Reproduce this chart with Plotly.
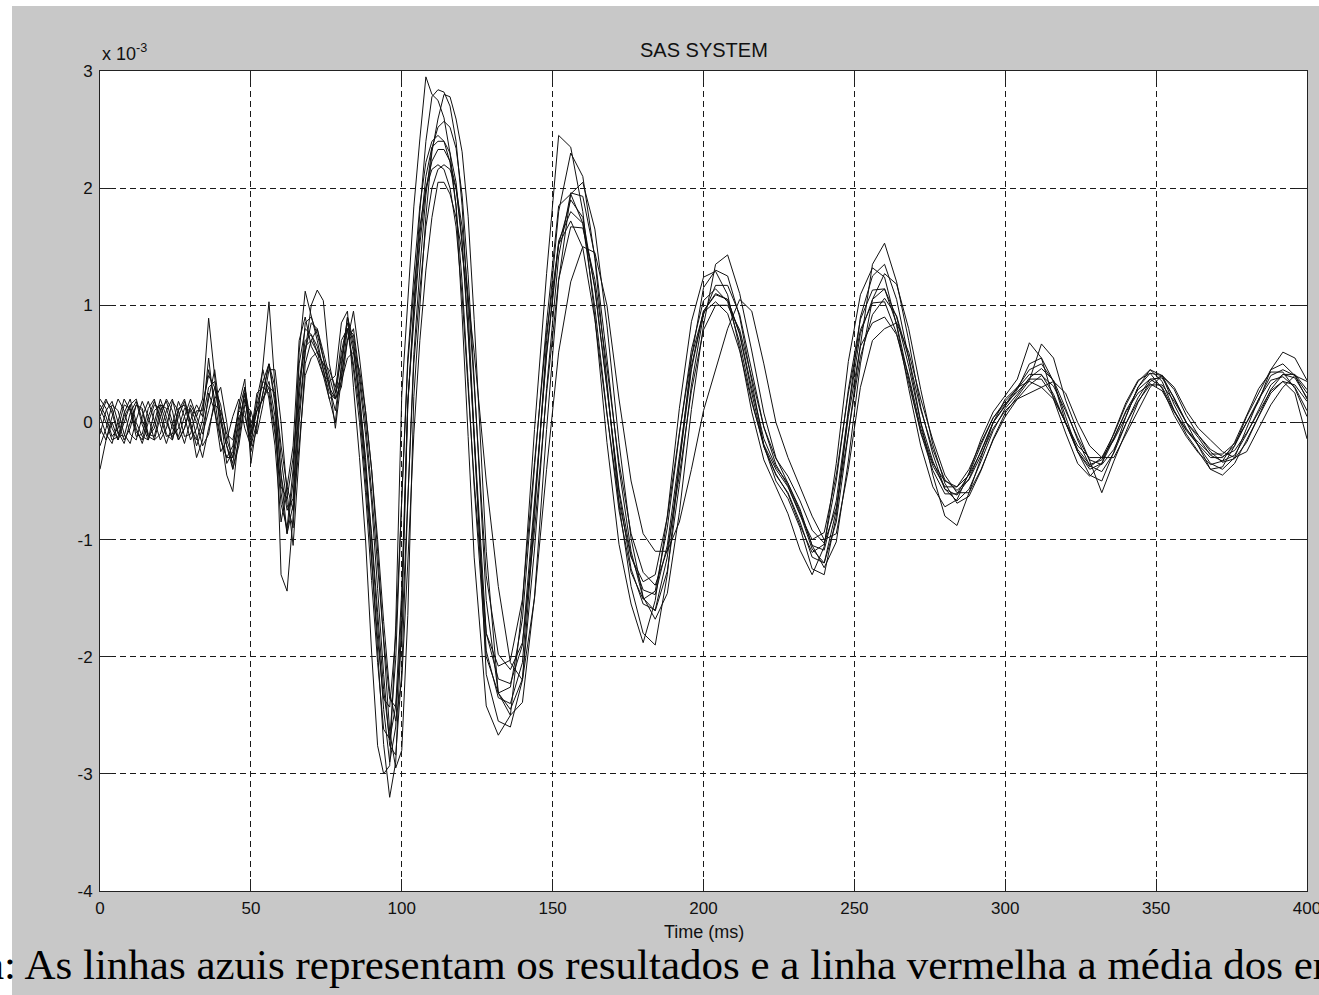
import plotly.graph_objects as go

# sample times (ms): 2 ms steps up to 124 ms, then 4 ms steps
time_ms = list(range(0, 125, 2)) + list(range(128, 401, 4))

# amplitudes in units of 1e-3, rows: 0-34 | 36-88 | 90-124 | 128-200 | 204-300 | 304-400
trace_a = [0.15, 0.05, -0.12, -0.05, 0.15, 0.12, -0.08, -0.15, 0.05, 0.18, 0.05, -0.12, -0.10, 0.12, 0.15, -0.05, -0.15, 0.02,
           0.30, 0.35, 0.05, -0.20, -0.35, -0.05, 0.25, -0.10, 0.10, 0.35, 0.50, 0.20, -0.45, -0.95, -0.70, 0.20, 0.85, 0.90, 0.75, 0.55, 0.30, 0.10, 0.45, 0.90, 0.70, 0.25, -0.35,
           -1.15, -1.95, -2.75, -3.20, -2.90, -1.70, 0.15, 1.00, 1.80, 2.40, 2.78, 2.84, 2.82, 2.70, 2.40, 1.85, 0.95, -0.10,
           -2.15, -2.55, -2.60, -2.20, -0.80, 0.70, 1.80, 2.30, 2.10, 1.40, 0.35, -0.70, -1.40, -1.80, -1.90, -1.30, -0.35, 0.55, 1.15,
           1.30, 1.25, 0.90, 0.35, -0.20, -0.50, -0.65, -0.90, -1.25, -1.30, -0.80, 0.10, 0.90, 1.25, 1.35, 1.05, 0.55, 0.00, -0.45, -0.80, -0.88, -0.60, -0.30, 0.00, 0.15,
           0.30, 0.45, 0.50, 0.35, 0.05, -0.25, -0.45, -0.50, -0.25, 0.05, 0.30, 0.42, 0.40, 0.15, -0.05, -0.20, -0.35, -0.40, -0.30, -0.05, 0.20, 0.40, 0.45, 0.40, 0.20]

trace_b = [-0.10, 0.10, 0.18, 0.00, -0.15, -0.05, 0.15, 0.12, -0.10, -0.12, 0.10, 0.18, 0.00, -0.15, -0.05, 0.15, 0.05, 0.20,
           0.89, 0.40, -0.10, -0.45, -0.59, -0.10, 0.30, -0.05, 0.15, 0.35, 0.30, -0.05, -0.70, -0.90, -0.40, 0.50, 0.80, 0.75, 0.60, 0.40, 0.20, 0.25, 0.70, 0.80, 0.45, 0.00, -0.60,
           -1.35, -2.05, -2.62, -2.70, -2.02, -0.65, 0.55, 1.25, 1.85, 2.22, 2.40, 2.45, 2.40, 2.22, 1.85, 1.20, 0.35, -0.55,
           -2.00, -2.31, -2.26, -1.68, -0.38, 0.85, 1.85, 1.95, 1.70, 0.98, 0.08, -0.75, -1.28, -1.51, -1.44, -0.90, -0.10, 0.62, 1.04,
           1.14, 1.03, 0.68, 0.19, -0.21, -0.44, -0.61, -0.88, -1.11, -1.04, -0.50, 0.28, 0.88, 1.13, 1.14, 0.84, 0.38, -0.09, -0.41, -0.61, -0.61, -0.44, -0.19, 0.04, 0.18,
           0.29, 0.41, 0.41, 0.24, -0.01, -0.25, -0.40, -0.35, -0.14, 0.10, 0.28, 0.37, 0.30, 0.10, -0.07, -0.19, -0.30, -0.30, -0.20, 0.00, 0.20, 0.36, 0.39, 0.30, 0.10]

trace_c = [0.20, 0.12, -0.05, -0.15, 0.00, 0.15, 0.20, 0.02, -0.12, -0.05, 0.15, 0.12, -0.05, -0.12, 0.05, 0.20, 0.05, -0.10,
           0.10, 0.30, 0.15, -0.15, -0.30, 0.05, 0.10, -0.25, -0.05, 0.50, 1.03, 0.30, -1.30, -1.44, -0.80, 0.10, 0.60, 0.85, 0.80, 0.55, 0.35, -0.05, 0.35, 0.80, 0.75, 0.35, -0.10,
           -0.68, -1.42, -2.15, -2.76, -2.84, -2.13, -0.68, 0.58, 1.31, 1.94, 2.34, 2.52, 2.57, 2.52, 2.34, 1.94, 1.26, 0.37,
           -1.52, -2.31, -2.45, -2.19, -1.08, 0.29, 1.42, 1.96, 1.93, 1.42, 0.55, -0.39, -1.10, -1.50, -1.61, -1.27, -0.53, 0.32, 0.92,
           1.17, 1.17, 0.92, 0.45, -0.04, -0.36, -0.54, -0.78, -1.08, -1.20, -0.85, -0.10, 0.66, 1.35, 1.53, 1.20, 0.70, 0.13, -0.27, -0.57, -0.67, -0.57, -0.33, -0.07, 0.12,
           0.24, 0.38, 0.46, 0.36, 0.12, -0.15, -0.37, -0.42, -0.26, -0.01, 0.21, 0.37, 0.38, 0.21, 0.00, -0.13, -0.28, -0.33, -0.28, -0.10, 0.11, 0.32, 0.41, 0.38, 0.21]

trace_d = [-0.05, -0.15, 0.05, 0.20, 0.10, -0.10, -0.15, 0.05, 0.18, 0.02, -0.15, -0.05, 0.18, 0.10, -0.12, -0.10, 0.10, 0.10,
           0.45, 0.20, -0.15, -0.30, -0.20, 0.10, 0.30, 0.00, 0.10, 0.20, 0.35, 0.05, -0.60, -0.95, -0.50, 0.60, 1.12, 0.90, 0.70, 0.45, 0.20, 0.00, 0.50, 0.90, 0.65, 0.15, -0.40,
           -0.95, -1.62, -2.28, -2.71, -2.42, -1.43, 0.19, 0.86, 1.52, 2.00, 2.23, 2.33, 2.33, 2.23, 2.00, 1.52, 0.76, -0.10,
           -1.80, -2.19, -2.23, -1.90, -0.67, 0.57, 1.52, 1.90, 1.75, 1.14, 0.29, -0.57, -1.14, -1.43, -1.47, -1.05, -0.29, 0.48, 0.95,
           1.09, 1.05, 0.76, 0.29, -0.14, -0.38, -0.52, -0.76, -1.05, -1.09, -0.67, 0.10, 0.76, 1.05, 1.14, 0.90, 0.48, 0.00, -0.33, -0.57, -0.62, -0.48, -0.24, 0.00, 0.14,
           0.28, 0.50, 0.55, 0.35, 0.00, -0.25, -0.38, -0.30, -0.10, 0.15, 0.35, 0.45, 0.35, 0.10, -0.10, -0.25, -0.40, -0.38, -0.20, 0.05, 0.25, 0.45, 0.50, 0.40, 0.25]

trace_e = [0.10, 0.20, 0.08, -0.10, -0.12, 0.08, 0.18, -0.02, -0.15, 0.00, 0.20, 0.05, -0.15, 0.05, 0.18, 0.00, -0.20, -0.05,
           0.20, 0.45, 0.05, -0.35, -0.25, 0.15, 0.37, -0.35, 0.00, 0.25, 0.50, 0.30, -0.30, -0.70, -0.90, 0.00, 0.60, 1.00, 1.13, 1.04, 0.50, 0.25, 0.40, 0.70, 0.80, 0.40, 0.00,
           -0.59, -1.22, -1.85, -2.36, -2.43, -1.82, -0.59, 0.50, 1.13, 1.67, 2.00, 2.16, 2.20, 2.16, 2.00, 1.67, 1.08, 0.32,
           -1.31, -1.98, -2.11, -1.88, -0.92, 0.25, 1.22, 1.67, 1.66, 1.22, 0.47, -0.34, -0.95, -1.28, -1.39, -1.09, -0.45, 0.27, 0.79,
           1.00, 1.00, 0.79, 0.38, -0.04, -0.31, -0.46, -0.67, -0.92, -1.03, -0.73, -0.09, 0.56, 0.92, 1.06, 0.91, 0.55, 0.11, -0.23, -0.49, -0.58, -0.49, -0.28, -0.05, 0.10,
           0.20, 0.32, 0.40, 0.31, 0.10, -0.13, -0.32, -0.36, -0.23, -0.01, 0.18, 0.32, 0.32, 0.18, 0.00, -0.11, -0.23, -0.29, -0.24, -0.09, 0.09, 0.27, 0.35, 0.32, 0.18]

trace_f = [-0.20, -0.05, 0.15, 0.10, -0.10, -0.18, 0.02, 0.18, 0.05, -0.15, -0.10, 0.10, 0.20, -0.02, -0.18, 0.02, 0.15, 0.05,
           0.55, 0.10, -0.25, -0.15, 0.05, 0.20, -0.05, -0.20, 0.20, 0.45, 0.20, -0.20, -0.85, -0.55, -0.20, 0.70, 0.90, 0.65, 0.55, 0.40, 0.35, 0.40, 0.85, 0.95, 0.30, -0.30, -1.00,
           -1.96, -2.76, -3.00, -2.93, -1.73, 0.23, 1.04, 1.84, 2.42, 2.95, 2.80, 2.75, 2.60, 2.30, 1.84, 0.92, -0.12, -1.15,
           -2.42, -2.67, -2.50, -1.55, -0.06, 1.27, 2.45, 2.35, 1.80, 0.90, -0.17, -1.04, -1.55, -1.88, -1.52, -0.80, 0.12, 0.86, 1.24,
           1.29, 1.09, 0.63, 0.09, -0.32, -0.55, -0.78, -1.09, -1.30, -1.06, -0.35, 0.52, 1.09, 1.32, 1.24, 0.83, 0.29, -0.20, -0.55, -0.72, -0.66, -0.43, -0.14, 0.09, 0.23,
           0.37, 0.68, 0.55, 0.20, -0.09, -0.35, -0.46, -0.35, -0.09, 0.17, 0.36, 0.42, 0.29, 0.06, -0.12, -0.26, -0.36, -0.33, -0.17, 0.06, 0.29, 0.43, 0.43, 0.29, 0.05]

trace_g = [0.05, 0.18, 0.12, -0.08, -0.18, 0.00, 0.15, 0.10, -0.12, -0.15, 0.05, 0.20, 0.10, -0.15, -0.05, 0.12, 0.00, -0.20,
           -0.10, 0.20, 0.30, 0.00, -0.40, -0.20, 0.15, 0.10, -0.10, 0.15, 0.45, 0.45, 0.00, -0.60, -1.05, -0.30, 0.50, 0.70, 0.80, 0.60, 0.40, 0.20, 0.30, 0.70, 0.95, 0.55, 0.10,
           -0.40, -1.10, -1.87, -2.64, -2.95, -2.80, -1.65, 0.22, 0.99, 1.76, 2.31, 2.59, 2.80, 2.78, 2.59, 2.31, 1.76, 0.88,
           -1.10, -2.31, -2.50, -2.39, -1.49, -0.06, 1.21, 1.95, 2.05, 1.65, 0.83, -0.17, -0.99, -1.49, -1.68, -1.46, -0.77, 0.11, 0.83,
           1.35, 1.43, 1.10, 0.61, 0.08, -0.30, -0.52, -0.74, -1.05, -1.24, -1.02, -0.33, 0.50, 1.05, 1.27, 1.18, 0.80, 0.28, -0.19, -0.52, -0.69, -0.63, -0.41, -0.14, 0.08,
           0.22, 0.36, 0.67, 0.55, 0.19, -0.08, -0.33, -0.60, -0.33, -0.08, 0.17, 0.35, 0.40, 0.28, 0.06, -0.11, -0.25, -0.34, -0.31, -0.17, 0.06, 0.28, 0.41, 0.41, 0.28]

trace_h = [-0.40, -0.15, 0.00, -0.15, 0.05, 0.15, -0.05, -0.18, 0.00, 0.15, 0.12, -0.10, -0.15, 0.10, 0.20, 0.00, -0.30, -0.15,
           0.25, 0.10, -0.15, -0.30, -0.30, 0.00, 0.25, -0.20, 0.00, 0.25, 0.50, 0.15, -0.45, -0.75, -0.65, 0.35, 0.70, 0.75, 0.65, 0.45, 0.25, 0.20, 0.60, 0.85, 0.60, 0.20, -0.30,
           -1.00, -1.75, -2.45, -2.90, -2.60, -1.55, 0.15, 0.95, 1.60, 2.10, 2.35, 2.40, 2.40, 2.30, 2.05, 1.55, 0.80, -0.15,
           -1.95, -2.35, -2.40, -2.05, -0.75, 0.60, 1.55, 1.80, 1.70, 1.15, 0.30, -0.60, -1.25, -1.55, -1.60, -1.15, -0.35, 0.45, 0.95,
           1.10, 1.05, 0.75, 0.25, -0.20, -0.45, -0.60, -0.85, -1.15, -1.20, -0.75, 0.05, 0.65, 0.85, 0.90, 0.75, 0.40, -0.05, -0.35, -0.50, -0.55, -0.45, -0.25, 0.00, 0.20,
           0.30, 0.35, 0.30, 0.20, 0.00, -0.20, -0.30, -0.30, -0.15, 0.05, 0.30, 0.45, 0.40, 0.20, 0.00, -0.20, -0.40, -0.45, -0.35, -0.15, 0.05, 0.25, 0.35, 0.25, -0.14]

trace_i = [0.05, -0.10, -0.18, 0.00, 0.20, 0.10, -0.12, -0.10, 0.12, 0.20, -0.02, -0.18, -0.02, 0.18, 0.05, -0.15, -0.05, 0.15,
           0.40, 0.30, 0.00, -0.20, -0.40, -0.15, 0.20, -0.10, 0.25, 0.30, 0.25, -0.10, -0.55, -0.65, -0.30, 0.30, 0.65, 0.70, 0.60, 0.50, 0.45, 0.30, 0.55, 0.80, 0.50, 0.10, -0.50,
           -1.22, -1.85, -2.36, -2.43, -1.82, -0.59, 0.50, 1.13, 1.67, 2.00, 2.16, 2.20, 2.16, 2.00, 1.67, 1.08, 0.32, -0.50,
           -1.80, -2.08, -2.03, -1.51, -0.34, 0.77, 1.52, 1.72, 1.49, 0.88, 0.07, -0.68, -1.15, -1.36, -1.30, -0.81, -0.09, 0.56, 0.94,
           1.03, 0.93, 0.61, 0.17, -0.19, -0.40, -0.55, -0.79, -1.00, -0.94, -0.45, 0.25, 0.79, 1.02, 1.03, 0.76, 0.34, -0.08, -0.37, -0.55, -0.55, -0.40, -0.17, 0.04, 0.16,
           0.26, 0.37, 0.37, 0.22, -0.01, -0.23, -0.36, -0.32, -0.13, 0.09, 0.25, 0.33, 0.27, 0.09, -0.06, -0.17, -0.27, -0.27, -0.18, 0.00, 0.18, 0.45, 0.60, 0.55, 0.36]

trace_j = [0.12, 0.00, -0.15, -0.12, 0.08, 0.20, 0.00, -0.12, -0.15, 0.10, 0.15, 0.00, -0.12, -0.05, 0.12, 0.10, -0.12, -0.30,
           -0.05, 0.15, 0.10, -0.10, -0.15, 0.10, 0.05, -0.15, 0.10, 0.20, 0.30, 0.25, -0.20, -0.55, -0.75, -0.20, 0.40, 0.55, 0.60, 0.50, 0.30, 0.20, 0.35, 0.55, 0.60, 0.45, 0.10,
           -0.40, -1.00, -1.70, -2.30, -2.55, -2.20, -1.20, -0.10, 0.70, 1.30, 1.75, 2.05, 2.05, 1.95, 1.75, 1.45, 1.05, 0.60,
           -0.50, -1.40, -2.05, -2.20, -1.50, -0.40, 0.60, 1.20, 1.50, 1.45, 1.00, 0.20, -0.50, -0.95, -1.10, -1.10, -0.85, -0.40, 0.10,
           0.45, 0.80, 1.05, 0.95, 0.50, 0.00, -0.30, -0.55, -0.80, -1.00, -0.95, -0.40, 0.30, 0.70, 0.80, 0.85, 0.60, 0.20, -0.15, -0.45, -0.60, -0.60, -0.40, -0.15, 0.05,
           0.20, 0.25, 0.30, 0.35, 0.25, 0.00, -0.20, -0.30, -0.30, -0.10, 0.10, 0.30, 0.40, 0.30, 0.10, -0.05, -0.15, -0.25, -0.30, -0.25, -0.05, 0.15, 0.30, 0.40, 0.35]

all_traces = [trace_a, trace_b, trace_c, trace_d, trace_e, trace_f, trace_g, trace_h, trace_i, trace_j]

x_ticks = [0, 50, 100, 150, 200, 250, 300, 350, 400]
x_tick_labels = ["0", "50", "100", "150", "200", "250", "300", "350", "400"]
y_ticks = [-4, -3, -2, -1, 0, 1, 2, 3]
y_tick_labels = ["-4", "-3", "-2", "-1", "0", "1", "2", "3"]

title_text = "SAS SYSTEM"
x_label = "Time (ms)"
multiplier_text = "x 10<sup>-3</sup>"
caption_text = "a: As linhas azuis representam os resultados e a linha vermelha a média dos ensaios"

W, H = 1319, 995
L, R, T, B = 100, 12, 71, 104
pw, ph = W - L - R, H - T - B

def px_x(px):
    return (px - L) / pw

def px_y(py):
    return (H - B - py) / ph

fig = go.Figure()
for ys in all_traces:
    fig.add_trace(go.Scatter(x=time_ms, y=ys, mode="lines",
                             line=dict(color="#111111", width=1),
                             showlegend=False, hoverinfo="skip"))

axis_common = dict(
    showgrid=True, gridcolor="#1a1a1a", gridwidth=1, griddash="6px,4px",
    showline=True, linecolor="#222222", linewidth=1, mirror="ticks",
    ticks="inside", ticklen=12, tickcolor="#222222", tickwidth=1,
    zeroline=False, automargin=False, ticklabeloverflow="allow",
    tickfont=dict(family="Liberation Sans, Arial, sans-serif", size=17, color="#111111"),
)

fig.update_xaxes(range=[0, 400], tickmode="array", tickvals=x_ticks, ticktext=x_tick_labels,
                 ticklabelstandoff=2, **axis_common)
fig.update_yaxes(range=[-4, 3], tickmode="array", tickvals=y_ticks, ticktext=y_tick_labels,
                 ticklabelstandoff=3, **axis_common)

fig.add_shape(type="rect", xref="paper", yref="paper",
              x0=px_x(0), x1=px_x(12), y0=px_y(H), y1=px_y(0),
              fillcolor="white", line=dict(width=0), layer="below")
fig.add_shape(type="rect", xref="paper", yref="paper",
              x0=px_x(0), x1=px_x(W), y0=px_y(6), y1=px_y(0),
              fillcolor="white", line=dict(width=0), layer="below")

fig.add_annotation(text=title_text, xref="paper", yref="paper", x=0.5, y=px_y(49.5),
                   xanchor="center", yanchor="middle", showarrow=False,
                   font=dict(family="Liberation Sans, Arial, sans-serif", size=20, color="#111111"))
fig.add_annotation(text=x_label, xref="paper", yref="paper", x=0.5, y=px_y(932),
                   xanchor="center", yanchor="middle", showarrow=False,
                   font=dict(family="Liberation Sans, Arial, sans-serif", size=18, color="#111111"))
fig.add_annotation(text=multiplier_text, xref="paper", yref="paper", x=0.0, y=px_y(66),
                   xanchor="left", yanchor="bottom", showarrow=False,
                   font=dict(family="Liberation Sans, Arial, sans-serif", size=18, color="#111111"))
fig.add_annotation(text=caption_text, xref="paper", yref="paper", x=px_x(-17), y=px_y(964),
                   xanchor="left", yanchor="middle", showarrow=False,
                   font=dict(family="Liberation Serif, Times New Roman, serif", size=43, color="#000000"))

fig.update_layout(
    width=W, height=H,
    margin=dict(l=L, r=R, t=T, b=B, pad=0),
    paper_bgcolor="#c8c8c8", plot_bgcolor="#ffffff",
    showlegend=False,
)

fig.write_html("out.html")
